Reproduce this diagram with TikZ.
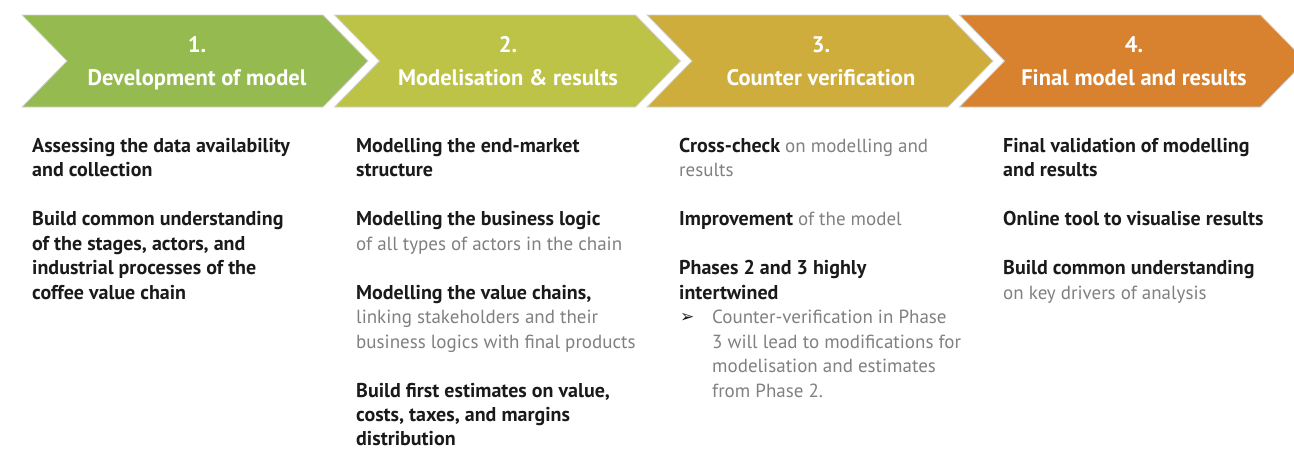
\documentclass[tikz,border=0pt]{standalone}
\usepackage{fontspec}
\setmainfont{PT Sans}
\newfontfamily\symfont{DejaVu Sans}
\definecolor{cA}{HTML}{95BA50}
\definecolor{cB}{HTML}{BDC347}
\definecolor{cC}{HTML}{CEAD3C}
\definecolor{cD}{HTML}{D8822F}
\definecolor{dk}{HTML}{1A1A1A}
\definecolor{lg}{HTML}{808080}
\newcommand\txtb[1]{{\fontsize{20}{24}\selectfont\bfseries\color{dk}#1}}
\newcommand\txtg[1]{{\fontsize{19}{24}\selectfont\mdseries\color{lg}#1}}
\begin{document}
\begin{tikzpicture}[x=1pt,y=-1pt,
  chev/.style={draw=gray!35,line width=0.8pt},
  hd/.style={text=white,font=\fontsize{22.5}{26}\selectfont\bfseries,inner sep=0pt,anchor=base},
  ln/.style={font=\fontsize{19}{24}\selectfont,inner sep=0pt,anchor=base west,text=dk}]
\useasboundingbox (0,0) rectangle (1294,448);
\begin{scope}
\clip (0,0) rectangle (1294,448);
\foreach \i/\c in {0/cA,1/cB,2/cC,3/cD}{
  \pgfmathsetmacro\xl{22+312.5*\i}
  \fill[\c] (\xl,15) -- (\xl+301,15) -- (\xl+346,61) -- (\xl+301,107) -- (\xl,107) -- (\xl+45,61) -- cycle;
  \draw[chev] (\xl,15) -- (\xl+301,15) -- (\xl+346,61) -- (\xl+301,107) -- (\xl,107) -- (\xl+45,61) -- cycle;
}
\end{scope}
% headers
\node[hd] (h1n) at (197,52) {1.};
\node[hd] (h1t) at (197,85) {Development of model};
\node[hd] (h2n) at (508,52) {2.};
\node[hd] (h2t) at (508,85) {Modelisation \& results};
\node[hd] (h3n) at (821,52) {3.};
\node[hd] (h3t) at (821,85) {Counter verification};
\node[hd] (h4n) at (1134,52) {4.};
\node[hd] (h4t) at (1134,85) {Final model and results};
% column 1
\node[ln] (a1) at (32,152) {\txtb{Assessing the data availability}};
\node[ln] (a2) at (32,176.5) {\txtb{and collection}};
\node[ln] (a3) at (32,225.5) {\txtb{Build common understanding}};
\node[ln] (a4) at (32,250) {\txtb{of the stages, actors, and}};
\node[ln] (a5) at (32,274.5) {\txtb{industrial processes of the}};
\node[ln] (a6) at (32,299) {\txtb{coffee value chain}};
% column 2
\node[ln] (b1) at (356,152) {\txtb{Modelling the end-market}};
\node[ln] (b2) at (356,176.5) {\txtb{structure}};
\node[ln] (b3) at (356,225.5) {\txtb{Modelling the business logic}};
\node[ln] (b4) at (356,250) {\txtg{of all types of actors in the chain}};
\node[ln] (b5) at (356,299) {\txtb{Modelling the value chains,}};
\node[ln] (b6) at (356,323.5) {\txtg{linking stakeholders and their}};
\node[ln] (b7) at (356,348) {\txtg{business logics with final products}};
\node[ln] (b8) at (356,397) {\txtb{Build first estimates on value,}};
\node[ln] (b9) at (356,421.5) {\txtb{costs, taxes, and margins}};
\node[ln,text depth=0pt] (b10) at (356,445) {\txtb{distribution}};
% column 3
\node[ln] (c1) at (679,152) {\txtb{Cross-check} \txtg{on modelling and}};
\node[ln] (c2) at (679,176.5) {\txtg{results}};
\node[ln] (c3) at (679,225.5) {\txtb{Improvement} \txtg{of the model}};
\node[ln] (c4) at (679,274.5) {\txtb{Phases 2 and 3 highly}};
\node[ln] (c5) at (679,299) {\txtb{intertwined}};
\node[ln] (cb) at (680,322.5) {\symfont\fontsize{17}{20}\selectfont\color{dk}➢};
\node[ln] (c6) at (712,323.5) {\txtg{Counter-verification in Phase}};
\node[ln] (c7) at (712,348) {\txtg{3 will lead to modifications for}};
\node[ln] (c8) at (712,372.5) {\txtg{modelisation and estimates}};
\node[ln] (c9) at (712,397) {\txtg{from Phase 2.}};
% column 4
\node[ln] (d1) at (1003,152) {\txtb{Final validation of modelling}};
\node[ln] (d2) at (1003,176.5) {\txtb{and results}};
\node[ln] (d3) at (1003,225.5) {\txtb{Online tool to visualise results}};
\node[ln] (d4) at (1003,274.5) {\txtb{Build common understanding}};
\node[ln] (d5) at (1003,299) {\txtg{on key drivers of analysis}};
\end{tikzpicture}
\end{document}
